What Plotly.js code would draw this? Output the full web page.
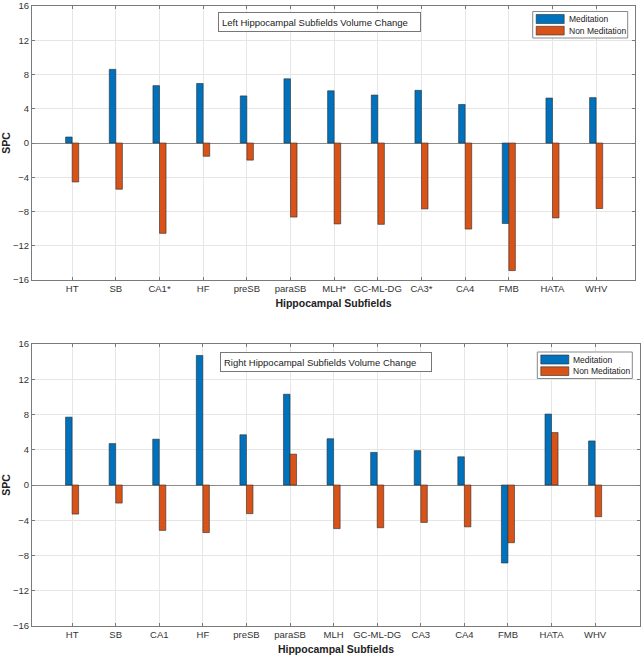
<!DOCTYPE html>
<html>
<head>
<meta charset="utf-8">
<script src="https://cdn.plot.ly/plotly-3.0.1.min.js"></script>
<style>
  html, body { margin: 0; padding: 0; background: #fff; }
  #chart { width: 641px; height: 657px; }
</style>
</head>
<body>
<div id="chart"></div>
<script>
// subfield labels (left side has the significant ones starred)
let leftLabels = ["HT", "SB", "CA1*", "HF", "preSB", "paraSB", "MLH*", "GC-ML-DG", "CA3*", "CA4", "FMB", "HATA", "WHV"];
let rightLabels = ["HT", "SB", "CA1", "HF", "preSB", "paraSB", "MLH", "GC-ML-DG", "CA3", "CA4", "FMB", "HATA", "WHV"];
let seriesNames = ["Meditation", "Non Meditation"];

// symmetrized percent change
let leftMeditation = [0.7, 8.6, 6.7, 6.95, 5.5, 7.5, 6.1, 5.6, 6.15, 4.5, -9.4, 5.25, 5.3];
let leftNonMeditation = [-4.55, -5.4, -10.55, -1.55, -2.0, -8.65, -9.45, -9.5, -7.7, -10.05, -14.9, -8.75, -7.65];
let rightMeditation = [7.7, 4.7, 5.2, 14.7, 5.7, 10.3, 5.25, 3.7, 3.9, 3.2, -8.85, 8.05, 5.0];
let rightNonMeditation = [-3.3, -2.05, -5.15, -5.4, -3.25, 3.5, -4.95, -4.85, -4.25, -4.75, -6.55, 5.95, -3.6];

let blue = "#0072BD";
let orange = "#D95319";
let edge = { color: "#2b2b2b", width: 0.6 };
let fontFamily = "Liberation Sans, Arial, sans-serif";

let data = [
    { x: leftLabels, y: leftMeditation, type: "bar", name: seriesNames[0],
      marker: { color: blue, line: edge }, xaxis: "x", yaxis: "y", showlegend: false },
    { x: leftLabels, y: leftNonMeditation, type: "bar", name: seriesNames[1],
      marker: { color: orange, line: edge }, xaxis: "x", yaxis: "y", showlegend: false },
    { x: rightLabels, y: rightMeditation, type: "bar", name: seriesNames[0],
      marker: { color: blue, line: edge }, xaxis: "x2", yaxis: "y2", showlegend: false },
    { x: rightLabels, y: rightNonMeditation, type: "bar", name: seriesNames[1],
      marker: { color: orange, line: edge }, xaxis: "x2", yaxis: "y2", showlegend: false }
];

let axisLine = "#7a7a7a";
let tickFont = { family: fontFamily, size: 9.5, color: "#333" };
let titleFont = { family: fontFamily, size: 10.5, color: "#222", weight: "bold" };

function xAxis(domainEnd, rangeEnd, anchor) {
    return {
        domain: [32 / 641, domainEnd],
        anchor: anchor,
        type: "category",
        range: [-0.92, rangeEnd],
        showline: true, linecolor: axisLine, linewidth: 1, mirror: "ticks",
        ticks: "inside", ticklen: 3, tickcolor: axisLine,
        showgrid: true, gridcolor: "#e6e6e6",
        tickfont: tickFont, tickangle: 0,
        title: { text: "Hippocampal Subfields", font: titleFont, standoff: 6 },
        automargin: false
    };
}

function yAxis(domain, anchor) {
    return {
        domain: domain,
        anchor: anchor,
        range: [-16, 16], dtick: 4, tick0: 0,
        showline: true, linecolor: axisLine, linewidth: 1, mirror: "ticks",
        ticks: "inside", ticklen: 3, tickcolor: axisLine,
        showgrid: true, gridcolor: "#e6e6e6",
        zeroline: true, zerolinecolor: "#8c8c8c", zerolinewidth: 1,
        tickfont: tickFont, ticklabeloverflow: "allow",
        title: { text: "SPC", font: titleFont, standoff: 4 },
        automargin: false
    };
}

// pixel helpers for the boxed legend / title boxes (paper coords)
let px = v => v / 641;
let py = v => 1 - v / 657;

// MATLAB-style legend: box, two wide patches, labels
function legendBox(left, top) {
    let shapes = [
        { type: "rect", xref: "paper", yref: "paper", x0: px(left), x1: px(left + 95),
          y0: py(top), y1: py(top + 26.5), line: { color: "#888", width: 1 }, fillcolor: "#fff" },
        { type: "rect", xref: "paper", yref: "paper", x0: px(left + 3.5), x1: px(left + 31.5),
          y0: py(top + 3), y1: py(top + 12), line: { color: "#2b2b2b", width: 0.6 }, fillcolor: blue },
        { type: "rect", xref: "paper", yref: "paper", x0: px(left + 3.5), x1: px(left + 31.5),
          y0: py(top + 14.8), y1: py(top + 23.5), line: { color: "#2b2b2b", width: 0.6 }, fillcolor: orange }
    ];
    let notes = seriesNames.map((name, i) => ({
        text: name, xref: "paper", yref: "paper", x: px(left + 34), y: py(top + 7.6 + i * 11.7),
        xanchor: "left", yanchor: "middle", showarrow: false,
        font: { family: fontFamily, size: 8.5, color: "#222" }
    }));
    return { shapes: shapes, notes: notes };
}

let legTop = legendBox(532.7, 11.5);
let legBottom = legendBox(537.3, 352);

let layout = {
    width: 641, height: 657,
    margin: { l: 0, r: 0, t: 0, b: 0 },
    paper_bgcolor: "#fff", plot_bgcolor: "#fff",
    barmode: "group", bargap: 0.7, bargroupgap: 0,
    showlegend: false,
    xaxis: xAxis(635 / 641, 12.89, "y"),
    yaxis: yAxis([1 - 280 / 657, 1 - 6 / 657], "x"),
    xaxis2: xAxis(640 / 641, 13.03, "y2"),
    yaxis2: yAxis([1 - 626 / 657, 1 - 344 / 657], "x2"),
    shapes: legTop.shapes.concat(legBottom.shapes),
    annotations: [
        { text: "Left Hippocampal Subfields Volume Change", xref: "paper", yref: "paper",
          x: px(218), y: py(12), xanchor: "left", yanchor: "top", showarrow: false,
          align: "left", width: 195, height: 12, borderpad: 3,
          bordercolor: "#777", borderwidth: 1, bgcolor: "#fff",
          font: { family: fontFamily, size: 9.5, color: "#222" } },
        { text: "Right Hippocampal Subfields Volume Change", xref: "paper", yref: "paper",
          x: px(220), y: py(352), xanchor: "left", yanchor: "top", showarrow: false,
          align: "left", width: 204, height: 12, borderpad: 3,
          bordercolor: "#777", borderwidth: 1, bgcolor: "#fff",
          font: { family: fontFamily, size: 9.5, color: "#222" } }
    ].concat(legTop.notes, legBottom.notes)
};

Plotly.newPlot("chart", data, layout, { displayModeBar: false, staticPlot: true });
</script>
</body>
</html>
